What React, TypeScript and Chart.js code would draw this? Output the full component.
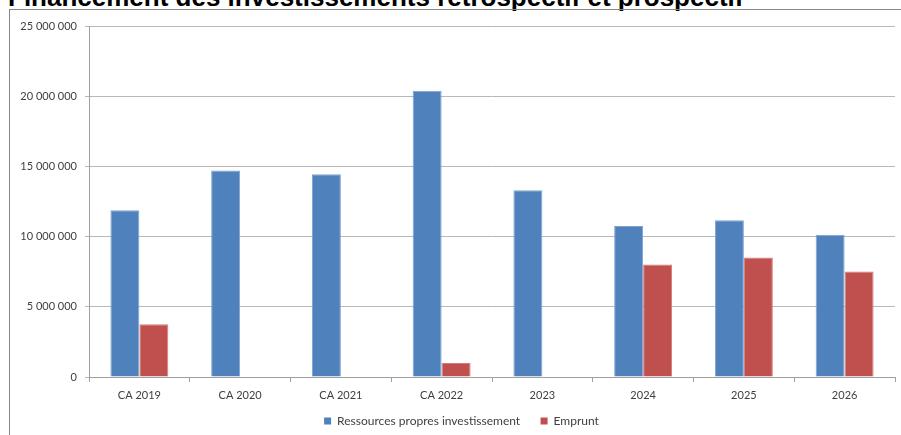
import React, { useEffect, useRef } from "react";
import { Chart, registerables } from "chart.js";

Chart.register(...registerables);

const categories = ["CA 2019", "CA 2020", "CA 2021", "CA 2022", "2023", "2024", "2025", "2026"];
const ressourcesPropres = [11870000, 14700000, 14440000, 20380000, 13300000, 10750000, 11160000, 10140000];
const emprunt = [3760000, null, null, 990000, null, 8010000, 8510000, 7520000];
const yTicks = [0, 5000000, 10000000, 15000000, 20000000, 25000000];
const seriesNames = ["Ressources propres investissement", "Emprunt"];
const titleText = "Financement des investissements rétrospectif et prospectif";

const fmt = (v: number) => v.toString().replace(/\B(?=(\d{3})+(?!\d))/g, " ");

const shiftLegend = {
  id: "shiftLegend",
  afterLayout(chart: any) {
    const lg = chart.legend;
    if (lg) {
      lg.left += 9;
      lg.right += 9;
    }
  },
};

export default function App() {
  const ref = useRef<HTMLCanvasElement | null>(null);

  useEffect(() => {
    document.body.style.overflow = "hidden";
    if (!ref.current) return;
    const font = { family: "Lato, 'Open Sans', sans-serif", size: 11 };
    const legendFont = { family: "Lato, 'Open Sans', sans-serif", size: 12 };
    const chart = new Chart(ref.current, {
      type: "bar",
      plugins: [shiftLegend],
      data: {
        labels: categories,
        datasets: [
          {
            label: seriesNames[0],
            data: ressourcesPropres,
            backgroundColor: "#4F81BD",
            borderColor: "#7ea3d3",
            borderWidth: 1,
            categoryPercentage: 0.575,
            barPercentage: 1,
          },
          {
            label: seriesNames[1],
            data: emprunt as any,
            backgroundColor: "#C0504D",
            borderColor: "#d27d7a",
            borderWidth: 1,
            categoryPercentage: 0.575,
            barPercentage: 1,
          },
        ],
      },
      options: {
        animation: false,
        responsive: false,
        maintainAspectRatio: false,
        layout: { padding: { left: 0, right: 6, top: 16, bottom: 0 } },
        plugins: {
          title: { display: false },
          tooltip: { enabled: false },
          legend: {
            display: true,
            position: "bottom",
            labels: {
              boxWidth: 7,
              boxHeight: 7,
              padding: 2,
              color: "#404040",
              font: legendFont,
              generateLabels: (c: any) =>
                c.data.datasets.map((d: any, i: number) => ({
                  text: d.label + (i === 0 ? "      " : ""),
                  fillStyle: d.backgroundColor,
                  strokeStyle: d.backgroundColor,
                  lineWidth: 0,
                  hidden: false,
                  datasetIndex: i,
                  fontColor: "#404040",
                })),
            },
          },
        },
        scales: {
          x: {
            offset: true,
            grid: {
              offset: true,
              drawOnChartArea: false,
              drawTicks: true,
              tickLength: 5,
              color: "#a0a0a0",
            },
            border: { display: true, color: "#a0a0a0", width: 1 },
            ticks: { color: "#404040", font, padding: 7, maxRotation: 0, autoSkip: false },
            afterFit: (s: any) => {
              s.height = 36;
            },
          },
          y: {
            min: 0,
            max: 25000000,
            afterBuildTicks: (s: any) => {
              s.ticks = yTicks.map((v) => ({ value: v }));
            },
            grid: { color: "#b8b8b8", lineWidth: 1, tickLength: 4 },
            border: { display: true, color: "#a0a0a0", width: 1 },
            ticks: {
              color: "#404040",
              font,
              padding: 8,
              callback: (v: any) => fmt(Number(v)),
            },
            afterFit: (s: any) => {
              s.width = 79;
            },
          },
        },
      },
    });
    return () => chart.destroy();
  }, []);

  return (
    <div style={{ position: "absolute", left: 0, top: 0, width: 901, height: 435, overflow: "hidden", background: "#fff" }}>
      <div
        style={{
          position: "absolute",
          left: 8,
          top: -16,
          fontFamily: "'Liberation Sans', Arial, sans-serif",
          fontWeight: "bold",
          fontSize: 26,
          lineHeight: "26px",
          whiteSpace: "nowrap",
          color: "#000",
        }}
      >
        {titleText}
      </div>
      <div
        style={{
          position: "absolute",
          left: 9,
          top: 9,
          width: 1000,
          height: 1000,
          borderLeft: "1.5px solid #868686",
          borderTop: "1.5px solid #868686",
          boxSizing: "border-box",
          background: "transparent",
        }}
      />
      <canvas ref={ref} width={891} height={427} style={{ position: "absolute", left: 10, top: 10, width: 891, height: 427 }} />
    </div>
  );
}
